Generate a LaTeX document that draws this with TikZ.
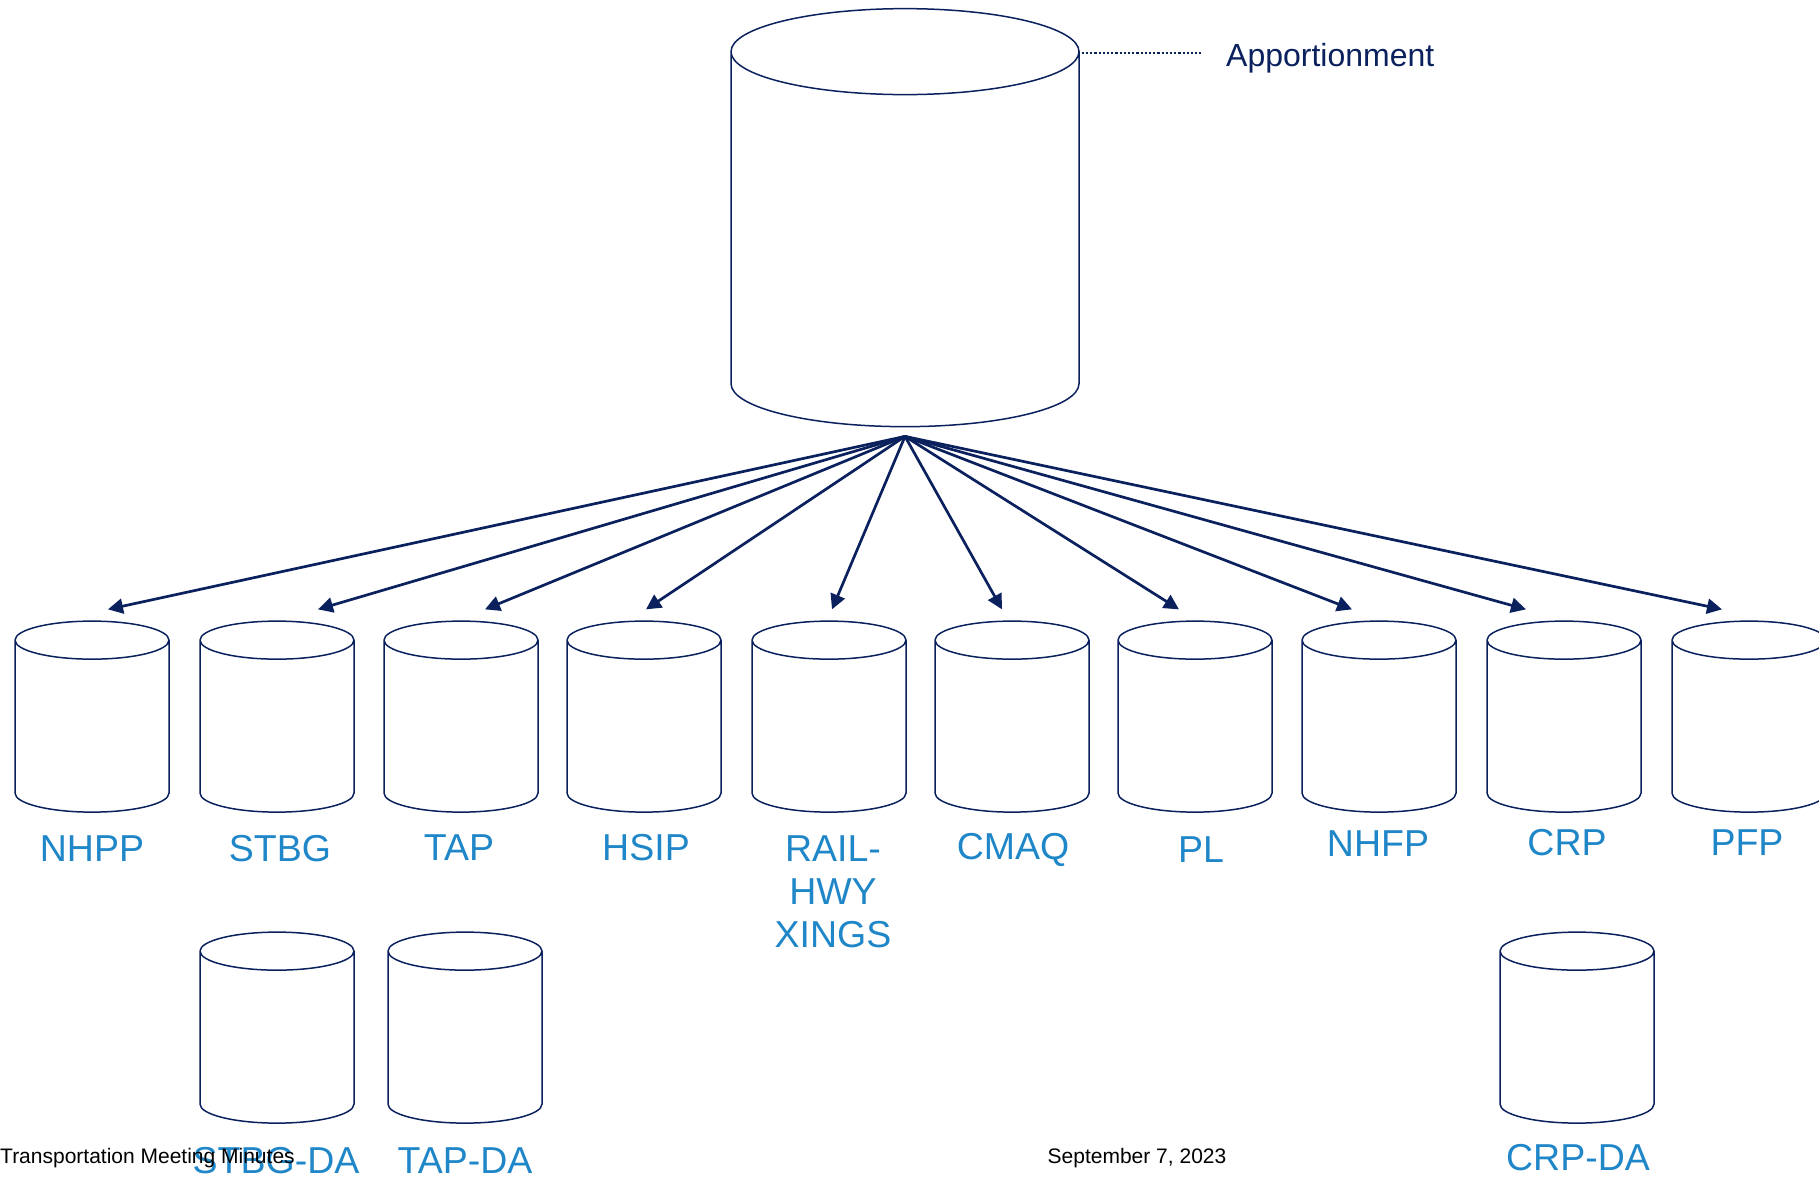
\documentclass[tikz,border=0pt]{standalone}
\usepackage{fontspec}
\setmainfont{Liberation Sans}
\usetikzlibrary{shapes.geometric,arrows.meta}

\definecolor{navy}{HTML}{0B215E}
\definecolor{progblue}{HTML}{1F86C8}

\tikzset{
    bucket/.style={draw=navy, line width=1.5pt, cylinder, shape border rotate=90,
        aspect=0.247, inner xsep=77pt, inner ysep=0pt, minimum height=191pt},
    bigbucket/.style={bucket, inner xsep=174pt, minimum height=418pt},
    progtext/.style={text=progblue, font=\fontsize{37.5}{43}\selectfont, align=center, inner sep=0pt},
    flow/.style={->, line width=2.7pt, draw=navy},
}

\begin{document}
\begin{tikzpicture}[x=1pt, y=-1pt, >={Triangle[length=15pt,width=15pt]}]
        \useasboundingbox (0,0) rectangle (1819,1178);

        % -----------------------
        % 1. Apportionment
        % -----------------------
        \node[bigbucket] (apport) at (905,261) {};
        \node[text=navy, font=\fontsize{32}{38}\selectfont, anchor=west, inner sep=0pt] (aplabel) at (1226,58) {Apportionment};
        \draw[navy, line width=2.2pt, dotted] ([xshift=2pt,yshift=5pt]apport.east |- aplabel.west) -- ([xshift=-25pt,yshift=5pt]aplabel.west);

        % -----------------------
        % 2. Program buckets
        % -----------------------
        \node[bucket] (nhpp) at (92,736) {};
        \node[bucket] (stbg) at (277,736) {};
        \node[bucket] (tap)  at (461,736) {};
        \node[bucket] (hsip) at (644,736) {};
        \node[bucket] (rail) at (829,736) {};
        \node[bucket] (cmaq) at (1012,736) {};
        \node[bucket] (pl)   at (1195,736) {};
        \node[bucket] (nhfp) at (1379,736) {};
        \node[bucket] (crp)  at (1564,736) {};
        \node[bucket] (pfp)  at (1749,736) {};

        \node[progtext] (nhppTxt) at (92,849)   {NHPP};
        \node[progtext] (stbgTxt) at (280,849)  {STBG};
        \node[progtext] (tapTxt)  at (459,848)  {TAP};
        \node[progtext] (hsipTxt) at (646,848)  {HSIP};
        \node[progtext] (railTxt) at (833,892)  {RAIL-\\HWY\\XINGS};
        \node[progtext] (cmaqTxt) at (1013,850) {CMAQ};
        \node[progtext] (plTxt)   at (1201,850) {PL};
        \node[progtext] (nhfpTxt) at (1378,844) {NHFP};
        \node[progtext] (crpTxt)  at (1567,843) {CRP};
        \node[progtext] (pfpTxt)  at (1747,843) {PFP};

        % -----------------------
        % 3. Sub-allocated buckets
        % -----------------------
        \node[bucket] (stbgda) at (277,1047) {};
        \node[bucket] (tapda)  at (465,1047) {};
        \node[bucket] (crpda)  at (1577,1047) {};

        \node[progtext] (stbgdaTxt) at (276,1161)  {STBG-DA};
        \node[progtext] (tapdaTxt)  at (465,1161)  {TAP-DA};
        \node[progtext] (crpdaTxt)  at (1578,1158) {CRP-DA};

        % -----------------------
        % 4. Footer
        % -----------------------
        \node[font=\fontsize{21}{25}\selectfont, anchor=base west, inner sep=0pt] (footA) at (0,1163) {Transportation Meeting Minutes};
        \node[font=\fontsize{21}{25}\selectfont, anchor=base, inner sep=0pt] (footB) at (1137,1163) {September 7, 2023};

        % -----------------------
        % Splits (Arrows)
        % -----------------------
        \draw[flow] ([yshift=-9pt]apport.south) -- ([xshift=16pt,yshift=11pt]nhpp.north);
        \draw[flow] ([yshift=-9pt]apport.south) -- ([xshift=41pt,yshift=11pt]stbg.north);
        \draw[flow] ([yshift=-9pt]apport.south) -- ([xshift=24pt,yshift=11pt]tap.north);
        \draw[flow] ([yshift=-9pt]apport.south) -- ([xshift=2pt,yshift=11pt]hsip.north);
        \draw[flow] ([yshift=-9pt]apport.south) -- ([xshift=3pt,yshift=11pt]rail.north);
        \draw[flow] ([yshift=-9pt]apport.south) -- ([xshift=-10pt,yshift=11pt]cmaq.north);
        \draw[flow] ([yshift=-9pt]apport.south) -- ([xshift=-16pt,yshift=11pt]pl.north);
        \draw[flow] ([yshift=-9pt]apport.south) -- ([xshift=-27pt,yshift=11pt]nhfp.north);
        \draw[flow] ([yshift=-9pt]apport.south) -- ([xshift=-38pt,yshift=11pt]crp.north);
        \draw[flow] ([yshift=-9pt]apport.south) -- ([xshift=-27pt,yshift=11pt]pfp.north);

    \end{tikzpicture}
\end{document}
